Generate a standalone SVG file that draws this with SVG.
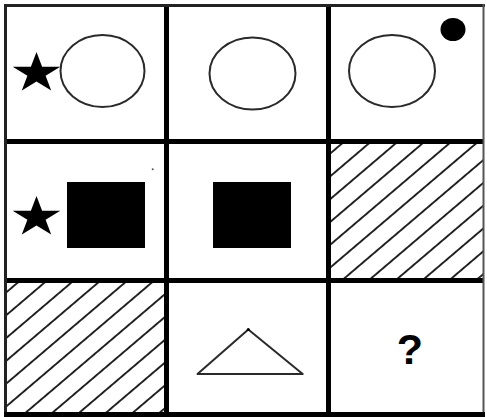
<svg xmlns="http://www.w3.org/2000/svg" width="487" height="417" viewBox="0 0 487 417">
  <style>
    .grid { stroke: #000; stroke-width: 5; fill: none; }
    .outline { fill: none; stroke: #2a2a2a; stroke-width: 2; }
    .solid { fill: #000; stroke: none; }
    .q { font-family: "Liberation Sans", Arial, sans-serif; font-weight: bold; font-size: 43px; fill: #000; }
  </style>
  <defs>
    <pattern id="hatch" patternUnits="userSpaceOnUse" width="17.37" height="10" patternTransform="rotate(49.6) translate(-7.79,0)">
      <line x1="8.68" y1="-1" x2="8.68" y2="11" stroke="#111" stroke-width="1.8"/>
    </pattern>
    <polygon id="star" points="36.5,52 42.1,66.7 60.3,66.7 45.6,75.8 51.2,90.4 36.5,81.4 21.8,90.4 27.4,75.8 12.7,66.7 30.9,66.7"/>
  </defs>
  <rect width="487" height="417" fill="#fff"/>

  <g id="cell-1-1">
    <use href="#star" class="solid"/>
    <ellipse class="outline" cx="102.5" cy="71" rx="42" ry="36"/>
  </g>
  <g id="cell-1-2">
    <ellipse class="outline" cx="252.5" cy="73.5" rx="43" ry="36"/>
  </g>
  <g id="cell-1-3">
    <ellipse class="outline" cx="392" cy="71" rx="43" ry="36"/>
    <ellipse class="solid" cx="453" cy="29.5" rx="12.5" ry="11.5"/>
  </g>
  <g id="cell-2-1">
    <use href="#star" class="solid" transform="translate(0,144)"/>
    <rect class="solid" x="67" y="182" width="78" height="66"/>
    <circle cx="152.7" cy="169.3" r="1" fill="#555"/>
  </g>
  <g id="cell-2-2">
    <rect class="solid" x="213" y="182" width="78" height="66"/>
  </g>
  <g id="cell-2-3">
    <rect x="328.5" y="141.5" width="155" height="139" fill="url(#hatch)"/>
  </g>
  <g id="cell-3-1">
    <rect x="5.5" y="280.5" width="161" height="134" fill="url(#hatch)"/>
  </g>
  <g id="cell-3-2">
    <polygon class="outline" points="248.3,329.5 197.5,374 302.7,374" stroke-linejoin="round"/>
    <circle cx="248.3" cy="329.5" r="1.5" fill="#000"/>
  </g>
  <g id="cell-3-3">
    <text class="q" x="410" y="364" text-anchor="middle">?</text>
  </g>

  <g id="grid">
    <line class="grid" x1="166.5" y1="5" x2="166.5" y2="414"/>
    <line class="grid" x1="328.5" y1="5" x2="328.5" y2="414"/>
    <line class="grid" x1="5.5" y1="141.5" x2="484" y2="141.5"/>
    <line class="grid" x1="5.5" y1="280.5" x2="484" y2="280.5"/>
    <line x1="5.5" y1="4" x2="5.5" y2="416" stroke="#222" stroke-width="3"/>
    <line x1="4" y1="5.5" x2="485" y2="5.5" stroke="#222" stroke-width="3"/>
    <line x1="483.5" y1="4" x2="483.5" y2="416" stroke="#555" stroke-width="2"/>
    <line x1="4" y1="414.5" x2="485" y2="414.5" stroke="#000" stroke-width="5"/>
  </g>
  <g id="connectors"/>
</svg>
